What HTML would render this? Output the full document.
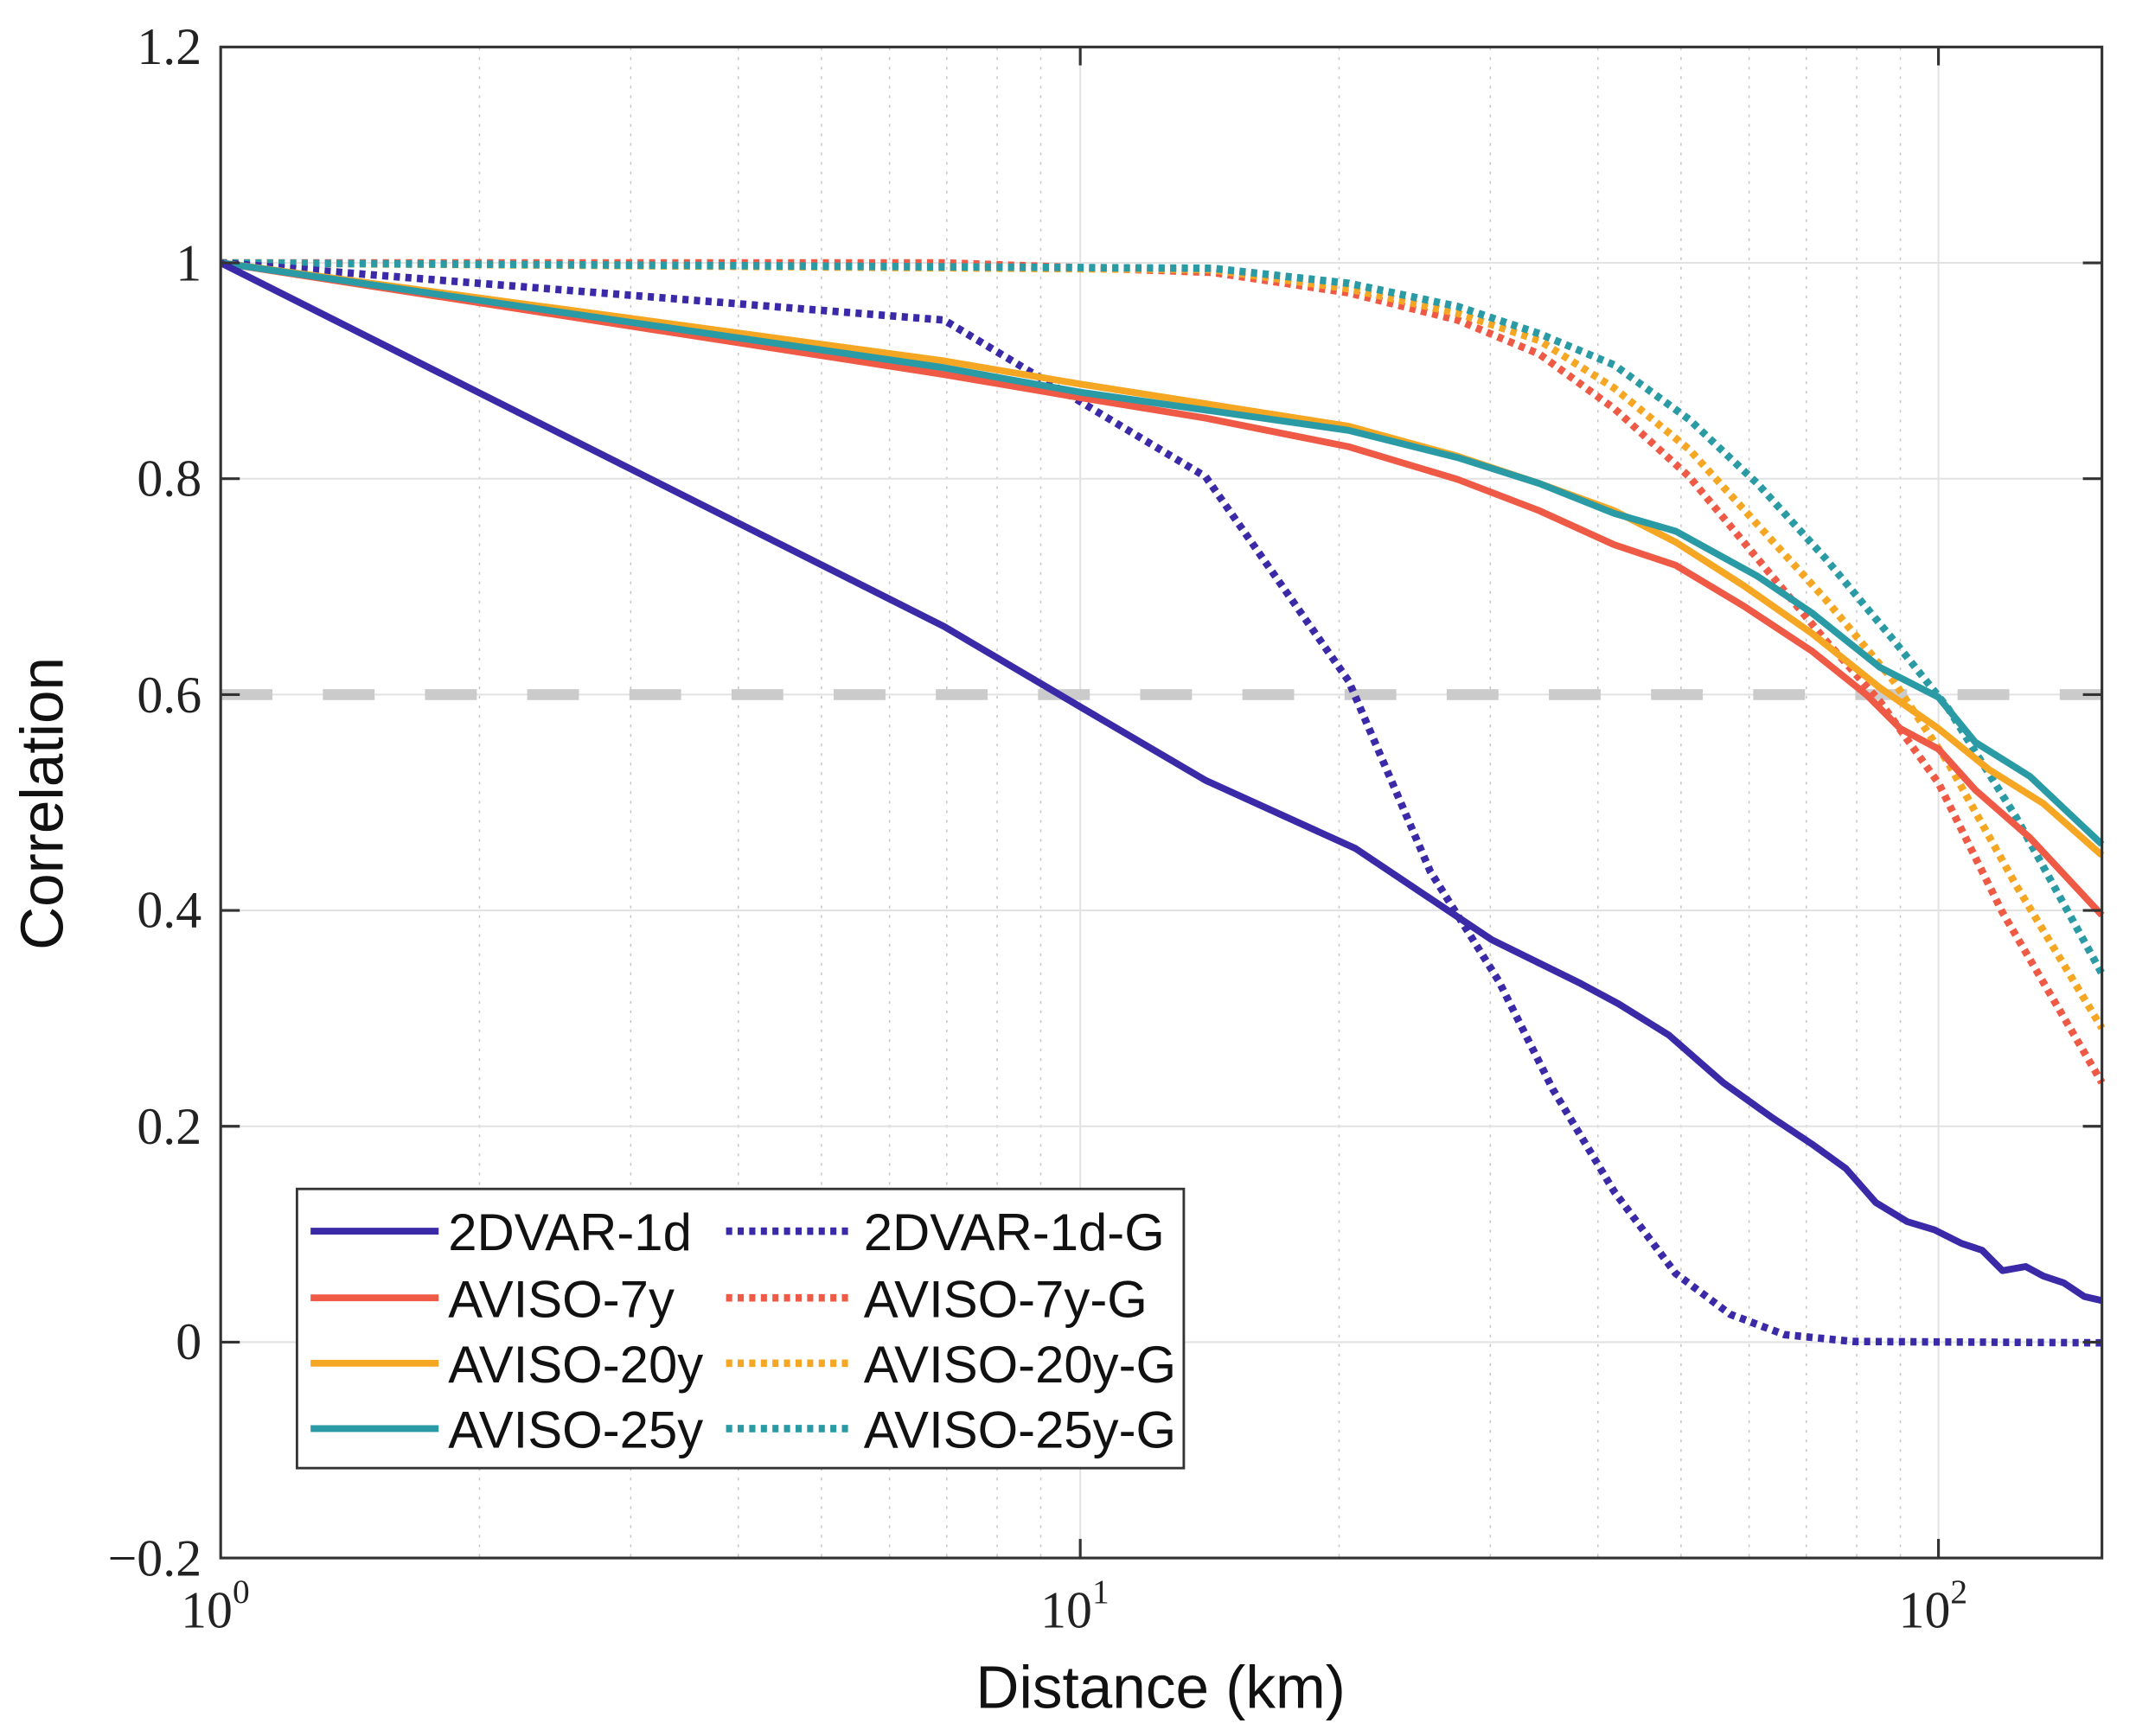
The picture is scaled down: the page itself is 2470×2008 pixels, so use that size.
<!DOCTYPE html>
<html><head><meta charset="utf-8"><style>
html,body{margin:0;padding:0;background:#fff;}
svg{display:block;}
.t{font-family:"Liberation Serif",serif;font-size:38px;fill:#222;}
.l{font-family:"Liberation Sans",sans-serif;font-size:44px;fill:#111;}
</style></head><body>
<svg width="2470" height="2008" viewBox="0 0 1568 1274.7" xmlns="http://www.w3.org/2000/svg">
<rect width="1568" height="1275" fill="#fff"/>
<g stroke="#c8c8c8" stroke-width="1" stroke-dasharray="2 5">
<line x1="352" y1="35" x2="352" y2="1144"/><line x1="463" y1="35" x2="463" y2="1144"/><line x1="542" y1="35" x2="542" y2="1144"/><line x1="603" y1="35" x2="603" y2="1144"/><line x1="653" y1="35" x2="653" y2="1144"/><line x1="695" y1="35" x2="695" y2="1144"/><line x1="732" y1="35" x2="732" y2="1144"/><line x1="764" y1="35" x2="764" y2="1144"/>
<line x1="983" y1="35" x2="983" y2="1144"/><line x1="1094" y1="35" x2="1094" y2="1144"/><line x1="1173" y1="35" x2="1173" y2="1144"/><line x1="1234" y1="35" x2="1234" y2="1144"/><line x1="1284" y1="35" x2="1284" y2="1144"/><line x1="1326" y1="35" x2="1326" y2="1144"/><line x1="1363" y1="35" x2="1363" y2="1144"/><line x1="1395" y1="35" x2="1395" y2="1144"/>
</g>
<g stroke="#e2e2e2" stroke-width="1.3">
<line x1="793" y1="35" x2="793" y2="1144"/><line x1="1423" y1="35" x2="1423" y2="1144"/>
<line x1="162" y1="193" x2="1543" y2="193"/><line x1="162" y1="351.5" x2="1543" y2="351.5"/><line x1="162" y1="510" x2="1543" y2="510"/><line x1="162" y1="668.5" x2="1543" y2="668.5"/><line x1="162" y1="827" x2="1543" y2="827"/><line x1="162" y1="985.5" x2="1543" y2="985.5"/>
</g>
<line x1="162" y1="510" x2="1543" y2="510" stroke="#cbcbcb" stroke-width="8" stroke-dasharray="38 37"/>
<g fill="none" stroke-width="5" stroke-linejoin="round">
<g stroke-width="5.5" stroke-dasharray="4.5 4">
<polyline stroke="#ee5a45" points="162,193 693,193 890,200 990,215 1070,235 1130,260 1185,300 1240,350 1290,410 1340,470 1380,515 1423,575 1470,670 1543,795"/>
<polyline stroke="#f5a623" points="162,193 890,198 990,212 1070,230 1130,250 1185,285 1240,330 1290,385 1340,440 1390,500 1430,560 1480,650 1543,755"/>
<polyline stroke="#2a9aa5" points="162,193 890,197 990,208 1070,225 1130,245 1185,268 1240,308 1290,355 1340,410 1390,470 1430,520 1480,600 1543,715"/>
<polyline stroke="#3b2aa8" points="162,193 693,235 885,350 990,500 1050,640 1100,720 1140,800 1185,875 1230,935 1270,965 1310,980 1360,985 1543,986"/>
</g>
<polyline stroke="#ee5a45" points="162,193 693,275 793,292 885,307 990,328 1070,352 1130,375 1185,400 1230,415 1280,445 1330,478 1370,510 1395,535 1423,550 1450,580 1490,615 1543,672"/>
<polyline stroke="#f5a623" points="162,193 693,265 793,282 990,313 1070,335 1130,355 1185,375 1230,398 1280,430 1330,465 1380,505 1423,535 1460,565 1500,590 1543,628"/>
<polyline stroke="#2a9aa5" points="162,193 693,270 793,288 990,316 1070,336 1130,355 1185,377 1230,390 1290,423 1330,450 1380,490 1423,512 1450,545 1490,570 1543,620"/>
<polyline stroke="#3b2aa8" points="162,193 693,460 793,519 885,573 995,623 1095,690 1160,722 1188,737 1225,760 1265,795 1300,820 1330,840 1355,858 1377,883 1400,897 1420,903 1440,913 1455,918 1470,933 1487,930 1500,937 1515,942 1530,952 1543,955"/>
</g>
<rect x="162" y="34.5" width="1381" height="1109.5" fill="none" stroke="#333" stroke-width="2"/>
<g stroke="#333" stroke-width="2">
<line x1="162" y1="193" x2="176" y2="193"/><line x1="162" y1="351.5" x2="176" y2="351.5"/><line x1="162" y1="510" x2="176" y2="510"/><line x1="162" y1="668.5" x2="176" y2="668.5"/><line x1="162" y1="827" x2="176" y2="827"/><line x1="162" y1="985.5" x2="176" y2="985.5"/>
<line x1="1543" y1="193" x2="1529" y2="193"/><line x1="1543" y1="351.5" x2="1529" y2="351.5"/><line x1="1543" y1="510" x2="1529" y2="510"/><line x1="1543" y1="668.5" x2="1529" y2="668.5"/><line x1="1543" y1="827" x2="1529" y2="827"/><line x1="1543" y1="985.5" x2="1529" y2="985.5"/>
<line x1="793" y1="1144" x2="793" y2="1130"/><line x1="1423" y1="1144" x2="1423" y2="1130"/>
<line x1="793" y1="34.5" x2="793" y2="48"/><line x1="1423" y1="34.5" x2="1423" y2="48"/>
</g>
<g class="t" text-anchor="end">
<text x="148" y="47">1.2</text><text x="148" y="206">1</text><text x="148" y="364">0.8</text><text x="148" y="523">0.6</text><text x="148" y="681">0.4</text><text x="148" y="840">0.2</text><text x="148" y="998">0</text><text x="148" y="1157">−0.2</text>
</g>
<g class="t" text-anchor="middle">
<text x="158" y="1195">10<tspan dy="-18" font-size="25">0</tspan></text>
<text x="789" y="1195">10<tspan dy="-18" font-size="25">1</tspan></text>
<text x="1419" y="1195">10<tspan dy="-18" font-size="25">2</tspan></text>
</g>
<text class="l" x="852" y="1254" text-anchor="middle">Distance (km)</text>
<text class="l" x="0" y="0" text-anchor="middle" transform="translate(46,590) rotate(-90)">Correlation</text>
<rect x="218" y="873" width="651" height="205" fill="#fff" stroke="#333" stroke-width="1.8"/>
<g stroke-width="5">
<line x1="228" y1="904" x2="322" y2="904" stroke="#3b2aa8"/>
<line x1="228" y1="953" x2="322" y2="953" stroke="#ee5a45"/>
<line x1="228" y1="1001" x2="322" y2="1001" stroke="#f5a623"/>
<line x1="228" y1="1049" x2="322" y2="1049" stroke="#2a9aa5"/>
<g stroke-dasharray="4.5 4" stroke-width="5.5">
<line x1="533" y1="904" x2="625" y2="904" stroke="#3b2aa8"/>
<line x1="533" y1="953" x2="625" y2="953" stroke="#ee5a45"/>
<line x1="533" y1="1001" x2="625" y2="1001" stroke="#f5a623"/>
<line x1="533" y1="1049" x2="625" y2="1049" stroke="#2a9aa5"/>
</g></g>
<g class="l" style="font-size:38px">
<text x="329" y="918">2DVAR-1d</text><text x="329" y="967">AVISO-7y</text><text x="329" y="1015">AVISO-20y</text><text x="329" y="1063">AVISO-25y</text>
<text x="634" y="918">2DVAR-1d-G</text><text x="634" y="967">AVISO-7y-G</text><text x="634" y="1015">AVISO-20y-G</text><text x="634" y="1063">AVISO-25y-G</text>
</g>
</svg>
</body></html>
